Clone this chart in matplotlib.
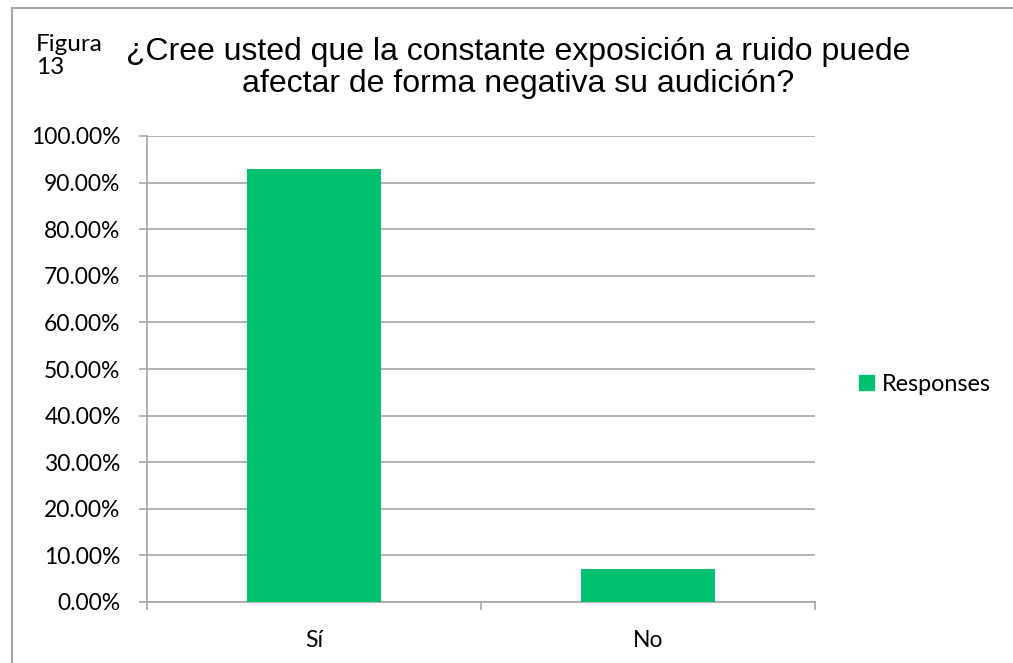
import matplotlib.pyplot as plt
from matplotlib.lines import Line2D
from matplotlib.ticker import FuncFormatter, MultipleLocator

categorias = ['Sí', 'No']
respuestas = [93.0, 7.0]
titulo = '¿Cree usted que la constante exposición a ruido puede\nafectar de forma negativa su audición?'
verde = '#00BF6F'
gris = '#A6A6A6'

fig = plt.figure(figsize=(10.13, 6.63), dpi=100)
ax = fig.add_axes([147 / 1013, 61 / 663, 668 / 1013, 466 / 663])

x = range(len(categorias))
ax.bar(x, respuestas, width=0.4, color=verde, label='Responses', zorder=3)

ax.set_xlim(-0.5, len(categorias) - 0.5)
ax.set_ylim(0, 100)
ax.yaxis.set_major_locator(MultipleLocator(10))
ax.yaxis.set_major_formatter(FuncFormatter(lambda v, p: f'{v:.2f}%'))
ax.grid(axis='y', color=gris, linewidth=1.2, zorder=0)

# marcas entre categorias en el eje x
ax.set_xticks([-0.5, 0.5, 1.5])
ax.set_xticklabels([])
ax.set_xticks(list(x), minor=True)
ax.set_xticklabels(categorias, minor=True)
ax.tick_params(axis='x', which='major', length=6, width=1.2, color=gris, direction='out')
ax.tick_params(axis='x', which='minor', length=0, pad=20, labelsize=16.5)
ax.tick_params(axis='y', length=6, width=1.2, color=gris, direction='out', pad=13, labelsize=16.5)
for lbl in ax.get_xticklabels(minor=True) + ax.get_yticklabels():
    lbl.set_fontfamily('Lato')

for s in ['top', 'right']:
    ax.spines[s].set_visible(False)
for s in ['left', 'bottom']:
    ax.spines[s].set_color(gris)
    ax.spines[s].set_linewidth(1.2)

leg = fig.legend(handles=[plt.Rectangle((0, 0), 1, 1, color=verde)], labels=['Responses'],
                 loc='center left', bbox_to_anchor=(838 / 1013, 1 - 384 / 663),
                 frameon=False, handlelength=0.65, handleheight=0.65, handletextpad=0.35,
                 prop={'family': 'Lato', 'size': 16.8})

fig.text(518 / 1013, 1 - 68 / 663, titulo, ha='center', va='center', multialignment='center',
         fontsize=23, family='Liberation Sans', linespacing=1.05)
fig.text(36 / 1013, 1 - 34 / 663, 'Figura\n13', ha='left', va='top', fontsize=17.5,
         family='Lato', linespacing=1.1)

# borde del recuadro
fig.add_artist(Line2D([12 / 1013, 1], [1 - 8 / 663] * 2, color=gris, linewidth=1.5))
fig.add_artist(Line2D([12 / 1013] * 2, [0, 1 - 8 / 663], color=gris, linewidth=1.5))

fig.savefig('out.png', dpi=100)
